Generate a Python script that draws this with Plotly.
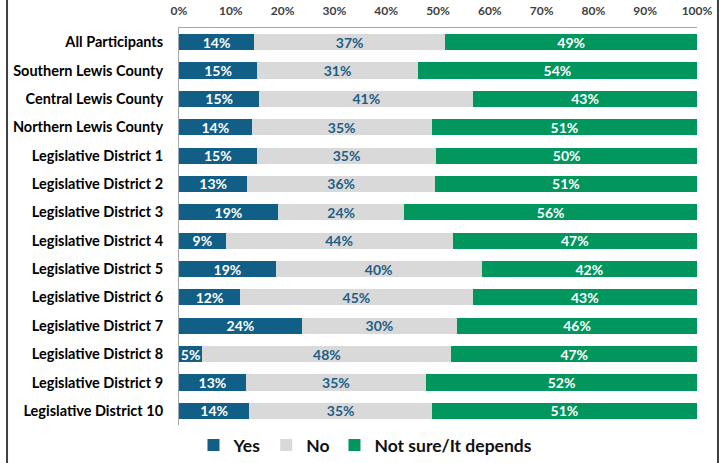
import plotly.graph_objects as go

categories = ["All Participants", "Southern Lewis County", "Central Lewis County",
              "Northern Lewis County", "Legislative District 1", "Legislative District 2",
              "Legislative District 3", "Legislative District 4", "Legislative District 5",
              "Legislative District 6", "Legislative District 7", "Legislative District 8",
              "Legislative District 9", "Legislative District 10"]

yes_vals = [14.5, 15.1, 15.5, 14.0, 15.0, 13.2, 19.1, 9.0, 18.7, 11.8, 23.7, 4.5, 12.9, 13.6]
no_vals = [36.9, 31.0, 41.3, 34.8, 34.7, 36.2, 24.4, 43.8, 39.7, 44.9, 30.0, 48.1, 34.8, 35.2]
ns_vals = [48.6, 53.9, 43.2, 51.2, 50.3, 50.6, 56.5, 47.2, 41.6, 43.3, 46.3, 47.4, 52.3, 51.2]

yes_labels = [14, 15, 15, 14, 15, 13, 19, 9, 19, 12, 24, 5, 13, 14]
no_labels = [37, 31, 41, 35, 35, 36, 24, 44, 40, 45, 30, 48, 35, 35]
ns_labels = [49, 54, 43, 51, 50, 51, 56, 47, 42, 43, 46, 47, 52, 51]

tick_values = [0, 10, 20, 30, 40, 50, 60, 70, 80, 90, 100]
tick_labels = [f"{v}%" for v in tick_values]

series = [
    ("Yes", yes_vals, yes_labels, "#115E86", "white"),
    ("No", no_vals, no_labels, "#D9D9D9", "#1D5E85"),
    ("Not sure/It depends", ns_vals, ns_labels, "#00965E", "white"),
]

FONT = "Lato"

fig = go.Figure()
for name, vals, labels, color, tcolor in series:
    fig.add_trace(go.Bar(
        name=name, y=categories, x=vals, orientation="h",
        marker=dict(color=color, line=dict(width=0)),
        text=[f"{v}%" for v in labels], textposition="inside",
        insidetextanchor="middle", constraintext="none",
        textfont=dict(family=FONT, size=14, color=tcolor, weight="bold"),
        textangle=0,
    ))

fig.update_layout(
    barmode="stack",
    bargap=0.43,
    width=728, height=463,
    margin=dict(l=179, r=31, t=28, b=38),
    paper_bgcolor="white", plot_bgcolor="white",
    font=dict(family=FONT, color="#000000"),
    uniformtext=dict(minsize=8, mode="show"),
    legend=dict(orientation="h", x=0.36, xanchor="center",
                yref="container", y=0.0, yanchor="bottom",
                font=dict(family=FONT, size=17.5, color="#111111", weight="bold"),
                itemwidth=30, traceorder="normal", itemsizing="constant"),
    xaxis=dict(range=[0, 100], side="top", tickmode="array", tickvals=tick_values,
               ticktext=tick_labels, showgrid=False, zeroline=False,
               showline=True, linecolor="#A6A6A6", linewidth=1, automargin=False,
               ticklabelstandoff=7,
               tickfont=dict(family=FONT, size=12, color="#404040", weight="bold"),
               ticks="", fixedrange=True),
    yaxis=dict(autorange="reversed", showgrid=False, zeroline=False, automargin=False,
               showline=True, linecolor="#A6A6A6", linewidth=1, ticks="",
               ticklabelstandoff=12,
               tickfont=dict(family=FONT, size=14.5, color="#000000", weight="bold")),
    shapes=[
        dict(type="line", xref="paper", yref="paper", x0=-0.332, x1=-0.332,
             y0=-0.1, y1=1.08, line=dict(color="#404040", width=2)),
        dict(type="line", xref="paper", yref="paper", x0=1.0405, x1=1.0405,
             y0=-0.1, y1=1.08, line=dict(color="#404040", width=2)),
    ],
)

fig.write_html("out.html", config={"displayModeBar": False},
               post_script="document.body.style.margin='0px';")
